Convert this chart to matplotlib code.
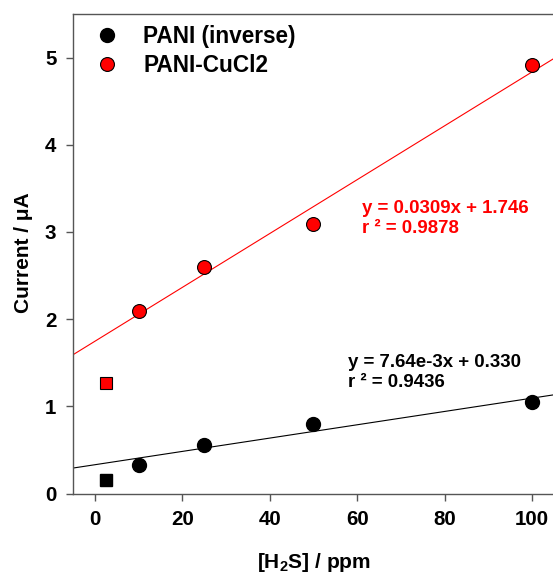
import matplotlib
matplotlib.use("Agg")
import matplotlib.pyplot as plt
import numpy as np

plt.rcParams['font.family'] = ['Liberation Sans', 'DejaVu Sans']
plt.rcParams['font.weight'] = 'bold'
plt.rcParams['mathtext.fontset'] = 'custom'
plt.rcParams['mathtext.rm'] = 'Liberation Sans:bold'
plt.rcParams['mathtext.bf'] = 'Liberation Sans:bold'
plt.rcParams['mathtext.default'] = 'bf'

conc = [10, 25, 50, 100]
pani_inv = [0.33, 0.56, 0.80, 1.05]
pani_cucl2 = [2.09, 2.60, 3.09, 4.91]
sq_x = [2.5]
sq_pani_inv = [0.15]
sq_pani_cucl2 = [1.27]
fit_black = (7.64e-3, 0.330)
fit_red = (0.0309, 1.746)
xticks = [0, 20, 40, 60, 80, 100]
yticks = [0, 1, 2, 3, 4, 5]

fig = plt.figure(figsize=(5.53, 5.73), dpi=100)
ax = fig.add_axes([73/553, (573-493.5)/573, (554-73)/553, (493.5-14)/573])
ax.set_xlim(-5, 105)
ax.set_ylim(0, 5.5)

xx = np.array([-5, 105])
ax.plot(xx, fit_red[0]*xx + fit_red[1], color='red', lw=0.8, zorder=2)
ax.plot(xx, fit_black[0]*xx + fit_black[1], color='black', lw=0.8, zorder=2)

ax.plot(conc, pani_inv, 'o', color='black', mec='black', ms=10, label='PANI (inverse)', zorder=3)
ax.plot(conc, pani_cucl2, 'o', color='red', mec='black', mew=0.8, ms=10, label='PANI-CuCl2', zorder=3)
ax.plot(sq_x, sq_pani_inv, 's', color='black', mec='black', ms=8.3, zorder=3)
ax.plot(sq_x, sq_pani_cucl2, 's', color='red', mec='black', mew=0.8, ms=8.3, zorder=3)

ax.set_xticks(xticks)
ax.set_yticks(yticks)
ax.tick_params(direction='out', length=5, width=1, labelsize=14.8, color='#555555', pad=7)
for lab in ax.get_xticklabels() + ax.get_yticklabels():
    lab.set_fontweight('bold')
for s in ax.spines.values():
    s.set_color('#555555')
    s.set_linewidth(1)

ax.set_xlabel('[H$_2$S] / ppm', fontsize=15, fontweight='bold')
ax.set_ylabel('Current / \u03bcA', fontsize=15, fontweight='bold')
ax.xaxis.set_label_coords((314-73)/481, (493.5-551)/479.5)
ax.yaxis.set_label_coords((33-73)/481, (493.5-252.5)/479.5)

leg = ax.legend(loc='upper left', frameon=False, handletextpad=0.6, handlelength=2.0,
                borderaxespad=0.1, labelspacing=0.25, prop={'weight': 'bold', 'size': 16.3},
                bbox_to_anchor=(0.0, 1.0))

ax.text(61.0, 3.154, 'y = 0.0309x + 1.746\nr \u00b2 = 0.9878', color='red', fontsize=13.4,
        fontweight='bold', va='center', ha='left', linespacing=1.2)
ax.text(57.8, 1.388, 'y = 7.64e-3x + 0.330\nr \u00b2 = 0.9436', color='black', fontsize=13.4,
        fontweight='bold', va='center', ha='left', linespacing=1.2)

fig.savefig('out.png', dpi=100)
